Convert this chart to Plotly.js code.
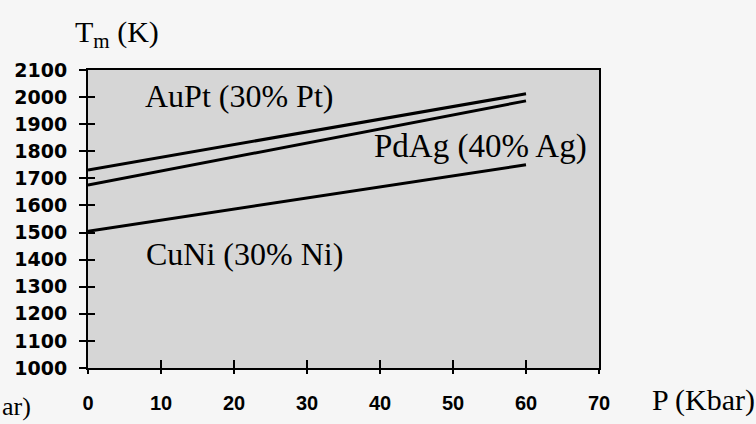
<!DOCTYPE html>
<html>
<head>
<meta charset="utf-8">
<script src="https://cdn.plot.ly/plotly-3.0.1.min.js"></script>
<style>html,body{margin:0;padding:0;background:#f6f6f6;}</style>
</head>
<body>
<div id="chart" style="width:756px;height:424px;"></div>
<script>
// Pressure (Kbar)
const pressure = [0, 60];
// Melting temperature (K)
const auptTm = [1731, 2012];
const pdagTm = [1675, 1986];
const cuniTm = [1505, 1750];
const seriesNames = ["AuPt (30% Pt)", "PdAg (40% Ag)", "CuNi (30% Ni)"];
const xTicks = [0, 10, 20, 30, 40, 50, 60, 70];
const yTicks = [1000, 1100, 1200, 1300, 1400, 1500, 1600, 1700, 1800, 1900, 2000, 2100];

const lineStyle = {color: '#000', width: 3};
const traces = [
  {x: pressure, y: auptTm, name: seriesNames[0], mode: 'lines', line: lineStyle, xaxis: 'x', yaxis: 'y'},
  {x: pressure, y: pdagTm, name: seriesNames[1], mode: 'lines', line: lineStyle, xaxis: 'x', yaxis: 'y'},
  {x: pressure, y: cuniTm, name: seriesNames[2], mode: 'lines', line: lineStyle, xaxis: 'x2', yaxis: 'y2'}
];

const serif = 'Liberation Serif, Times New Roman, serif';
const xRange = [0, 70];
const yRange = [1000, 2100];

const layout = {
  width: 756, height: 424,
  margin: {l: 88, r: 157, t: 70, b: 56},
  paper_bgcolor: '#f6f6f6',
  plot_bgcolor: '#d6d6d6',
  showlegend: false,
  xaxis: {
    range: xRange, tickvals: xTicks, ticktext: xTicks.map(String),
    ticks: 'outside', ticklen: 4, tickwidth: 2, tickcolor: '#000',
    ticklabelstandoff: 12,
    showline: true, mirror: true, linecolor: '#000', linewidth: 2,
    showgrid: false, zeroline: false,
    tickfont: {family: 'Liberation Sans, Arial, sans-serif', size: 20, color: '#000', weight: 'bold'}
  },
  yaxis: {
    range: yRange, tickvals: yTicks, ticktext: yTicks.map(String),
    ticks: 'outside', ticklen: 7, tickwidth: 2, tickcolor: '#000',
    ticklabelstandoff: 8,
    showline: true, mirror: true, linecolor: '#000', linewidth: 2,
    showgrid: false, zeroline: false,
    tickfont: {family: 'DejaVu Sans, sans-serif', size: 19, color: '#000', weight: 'bold'}
  },
  xaxis2: {
    range: xRange, tickvals: xTicks, overlaying: 'x', anchor: 'y2',
    ticks: 'inside', ticklen: 8, tickwidth: 2, tickcolor: '#000',
    showticklabels: false, showline: false, showgrid: false, zeroline: false
  },
  yaxis2: {
    range: yRange, tickvals: yTicks, overlaying: 'y', anchor: 'x2',
    ticks: 'inside', ticklen: 7, tickwidth: 2, tickcolor: '#000',
    showticklabels: false, showline: false, showgrid: false, zeroline: false
  },
  annotations: [
    {text: seriesNames[0], x: 20.7, y: 2004, xref: 'x', yref: 'y', showarrow: false,
     xanchor: 'center', yanchor: 'middle', font: {family: serif, size: 32, color: '#000'}},
    {text: seriesNames[1], x: 53.7, y: 1816, xref: 'x', yref: 'y', showarrow: false,
     xanchor: 'center', yanchor: 'middle', font: {family: serif, size: 33, color: '#000'}},
    {text: seriesNames[2], x: 21.5, y: 1421, xref: 'x', yref: 'y', showarrow: false,
     xanchor: 'center', yanchor: 'middle', font: {family: serif, size: 32, color: '#000'}},
    {text: 'T<sub>m</sub> (K)', x: -0.03, y: 1.121, xref: 'paper', yref: 'paper', showarrow: false,
     xanchor: 'left', yanchor: 'middle', font: {family: serif, size: 30, color: '#000'}},
    {text: 'P (Kbar)', x: 1.0998, y: -0.106, xref: 'paper', yref: 'paper', showarrow: false,
     xanchor: 'left', yanchor: 'middle', font: {family: serif, size: 30, color: '#000'}},
    {text: 'ar)', x: -0.1076, y: -0.129, xref: 'paper', yref: 'paper', showarrow: false,
     xanchor: 'right', yanchor: 'middle', font: {family: serif, size: 26, color: '#000'}}
  ]
};

Plotly.newPlot('chart', traces, layout, {displayModeBar: false, staticPlot: true});
</script>
</body>
</html>
